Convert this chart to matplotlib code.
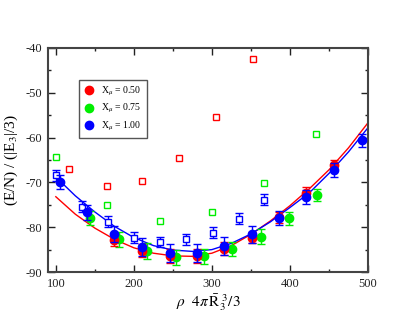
import numpy as np
import matplotlib
matplotlib.use('Agg')
import matplotlib.pyplot as plt

plt.rcParams['font.family'] = ['Liberation Serif', 'DejaVu Serif']
plt.rcParams['mathtext.fontset'] = 'stix'
plt.rcParams['axes.unicode_minus'] = False

# filled circles (with error bars)
xb = [105, 140, 175, 210, 246, 281, 316, 352, 386, 421, 457, 492]
yb = [-69.9, -76.7, -81.6, -84.4, -85.8, -85.8, -84.1, -81.6, -77.9, -73.2, -67.3, -60.6]
eb = [1.5, 1.6, 1.8, 2.0, 2.0, 2.0, 2.0, 1.9, 1.6, 1.6, 1.6, 1.5]

xr = [175, 210, 246, 281, 316, 352, 386, 421, 457]
yr = [-82.8, -85.2, -86.4, -86.4, -84.8, -82.3, -77.8, -72.3, -66.2]
er = [1.3, 1.5, 1.5, 1.5, 1.4, 1.3, 1.2, 1.2, 1.1]

xg = [144, 181, 217, 254, 290, 326, 363, 399, 435]
yg = [-78.0, -82.7, -85.3, -86.7, -86.5, -84.9, -82.1, -78.0, -72.8]
eg = [1.6, 1.7, 1.7, 1.7, 1.7, 1.6, 1.6, 1.5, 1.4]

# open squares
xbs = [100, 133, 167, 200, 233, 267, 301, 335, 367]
ybs = [-68.4, -75.4, -78.8, -82.3, -83.3, -82.7, -81.2, -78.1, -73.9]
ebs = [1.2, 1.2, 1.2, 1.2, 1.2, 1.2, 1.2, 1.2, 1.2]

xrs = [117, 165, 211, 258, 305, 353]
yrs = [-67.1, -70.9, -69.8, -64.5, -55.4, -42.4]

xgs = [100, 166, 233, 300, 367, 434]
ygs = [-64.3, -75.1, -78.6, -76.7, -70.1, -59.3]

# fit curves
xc = [100, 125, 150, 175, 200, 225, 250, 275, 300, 325, 350, 375, 400, 425, 450, 475, 500]
yc_blue = [-68.8, -73.0, -76.6, -79.8, -82.3, -84.1, -85.1, -85.4, -85.0, -83.6, -81.5,
           -78.8, -75.6, -72.3, -68.0, -63.2, -57.8]
yc_red = [-73.2, -77.1, -80.2, -82.7, -84.6, -85.8, -86.4, -86.5, -85.8, -84.1, -81.6,
          -78.6, -75.2, -71.4, -67.2, -62.3, -56.7]

red = '#ff0000'
green = '#00ee00'
blue = '#0000ff'

fig = plt.figure(figsize=(4.15, 3.21), dpi=100)
ax = fig.add_axes([0.1157, 0.1526, 0.771, 0.698])

ax.plot(xc, yc_red, color=red, lw=1.0, zorder=2)
ax.plot(xc, yc_blue, color=blue, lw=1.0, zorder=2)

sq = dict(marker='s', ms=5.0, mfc='white', mew=1.0, ls='none', capsize=1.6, elinewidth=1.0, capthick=1.0)
ax.errorbar(xrs, yrs, yerr=0.35, mec=red, ecolor=red, zorder=3, **sq)
ax.errorbar(xgs, ygs, yerr=0.35, mec=green, ecolor=green, zorder=3, **sq)
sq['capsize'] = 3
ax.errorbar(xbs, ybs, yerr=ebs, mec=blue, ecolor=blue, zorder=3, **sq)

ci = dict(marker='o', ms=6.0, ls='none', capsize=3, elinewidth=1.0, capthick=1.0)
ax.errorbar(xg, yg, yerr=eg, color=green, zorder=4, **ci)
ax.errorbar(xr, yr, yerr=er, color=red, zorder=5, **ci)
ax.errorbar(xb, yb, yerr=eb, color=blue, zorder=6, **ci)

h1, = ax.plot([], [], 'o', color=red, ms=6)
h2, = ax.plot([], [], 'o', color=green, ms=6)
h3, = ax.plot([], [], 'o', color=blue, ms=6)
leg = ax.legend([h1, h2, h3], [r'X$_\mu$ = 0.50', r'X$_\mu$ = 0.75', r'X$_\mu$ = 1.00'],
                loc='upper left', bbox_to_anchor=(0.097, 0.857), fontsize=7,
                frameon=True, fancybox=False, framealpha=1, edgecolor='#555555',
                handlelength=1.0, handletextpad=0.8, borderpad=0.5, labelspacing=0.45,
                borderaxespad=0)
leg.get_frame().set_linewidth(1.0)

ax.set_xlim(90, 500)
ax.set_ylim(-90, -40)
ax.set_xticks([100, 200, 300, 400, 500])
ax.set_xticks(np.arange(150, 500, 100), minor=True)
ax.set_yticks(np.arange(-90, -39, 10))
ax.set_yticks(np.arange(-85, -40, 10), minor=True)
ax.tick_params(which='both', direction='in', top=True, right=True, labelsize=9, colors='#222222')
ax.tick_params(which='major', length=5, width=1.0, pad=4)
ax.tick_params(which='minor', length=2.5, width=1.0)
for s in ax.spines.values():
    s.set_linewidth(1.5)
    s.set_color('#444444')

ax.set_xlabel(r'$\rho\ \ 4\pi\,\bar{\mathrm{R}}_3^{\ 3}/3$', fontsize=11, labelpad=2)
ax.set_ylabel(r'(E/N) / (|E$_3$|/3)', fontsize=11, labelpad=4)

fig.savefig('out.png', dpi=100)
